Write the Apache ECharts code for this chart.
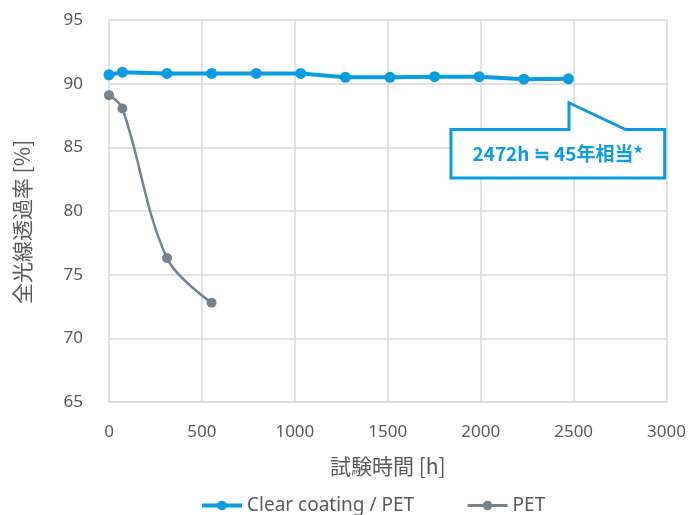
<!DOCTYPE html>
<html><head><meta charset="utf-8">
<script src="https://cdn.jsdelivr.net/npm/echarts@6/dist/echarts.min.js"></script>
<style>html,body{margin:0;padding:0;background:#fff}#c{width:689px;height:515px}</style>
</head><body><div id="c"></div>
<script>
const coatHours = [0, 72, 312, 552, 792, 1032, 1272, 1512, 1752, 1992, 2232, 2472];
const coatValues = [90.7, 90.9, 90.8, 90.8, 90.8, 90.8, 90.5, 90.5, 90.55, 90.55, 90.35, 90.38];
const petHours = [0, 72, 312, 552];
const petValues = [89.1, 88.05, 76.3, 72.8];
const seriesNames = ['Clear coating / PET', 'PET'];
const xTicks = [0, 500, 1000, 1500, 2000, 2500, 3000];
const yTicks = [65, 70, 75, 80, 85, 90, 95];
const calloutText = '2472h ≒ 45年相当*';

const font = '"Noto Sans", "Noto Sans CJK JP", sans-serif';
const jp = '"Noto Sans CJK JP", "Noto Sans", sans-serif';
const blue = '#0A9CE0';
const grey = '#76838D';
const gridC = '#D9D9D9';

const chart = echarts.init(document.getElementById('c'));
chart.setOption({
  animation: false,
  grid: {left: 109, right: 21, top: 20, bottom: 113},
  xAxis: {
    type: 'value', min: xTicks[0], max: xTicks[xTicks.length-1], interval: 500,
    axisLine: {show: true, lineStyle: {color: gridC, width: 1.5}},
    axisTick: {show: false},
    splitLine: {show: true, lineStyle: {color: gridC, width: 1.5}},
    axisLabel: {color: '#595959', fontSize: 17, fontFamily: font, margin: 22, formatter: v => String(v)},
    name: '試験時間 [h]', nameLocation: 'middle', nameGap: 54,
    nameTextStyle: {color: '#595959', fontSize: 21, fontFamily: jp}
  },
  yAxis: {
    type: 'value', min: yTicks[0], max: yTicks[yTicks.length-1], interval: 5,
    axisLine: {show: false},
    axisTick: {show: false},
    splitLine: {show: true, lineStyle: {color: gridC, width: 1.5}},
    axisLabel: {color: '#595959', fontSize: 17, fontFamily: font, margin: 26},
    name: '全光線透過率 [%]', nameLocation: 'middle', nameGap: 76, nameRotate: 90,
    nameTextStyle: {color: '#595959', fontSize: 21, fontFamily: jp, padding: [0, 22, 0, 0]}
  },
  legend: {
    left: 195, top: 491, itemWidth: 40, itemHeight: 12, itemGap: 52,
    textStyle: {color: '#595959', fontSize: 19, fontFamily: font},
    data: [
      {name: seriesNames[0], lineStyle: {width: 4}},
      {name: seriesNames[1], lineStyle: {width: 3}}
    ]
  },
  series: [
    {name: seriesNames[0], type: 'line', data: coatHours.map((h,i)=>[h, coatValues[i]]),
     symbol: 'circle', symbolSize: 11, itemStyle: {color: blue},
     lineStyle: {color: blue, width: 4}, z: 3},
    {name: seriesNames[1], type: 'line', data: petHours.map((h,i)=>[h, petValues[i]]),
     smooth: 0.35, symbol: 'circle', symbolSize: 10, itemStyle: {color: grey},
     lineStyle: {color: grey, width: 2.5}, z: 2}
  ]
});

function drawCallout() {
  const p = v => chart.convertToPixel({gridIndex: 0}, v);
  const tl = p([1840, 86.4]), br = p([2990, 82.6]);
  const tip = p([2475, 88.5]);
  const a = p([2475, 86.4]), b = p([2780, 86.4]);
  const x0 = tl[0], y0 = tl[1], x1 = br[0], y1 = br[1];
  chart.setOption({
    graphic: [
      {type: 'polygon', z: 100,
       shape: {points: [[x0, y0], [a[0], y0], [tip[0], tip[1]], [b[0], y0], [x1, y0], [x1, y1], [x0, y1]]},
       style: {fill: '#fff', stroke: blue, lineWidth: 3, lineJoin: 'miter'}},
      {type: 'text', z: 101, x: (x0 + x1) / 2, y: (y0 + y1) / 2,
       style: {text: calloutText, fill: blue, font: 'bold 19px ' + jp, align: 'center', verticalAlign: 'middle'}}
    ]
  });
}
drawCallout();
</script></body></html>
